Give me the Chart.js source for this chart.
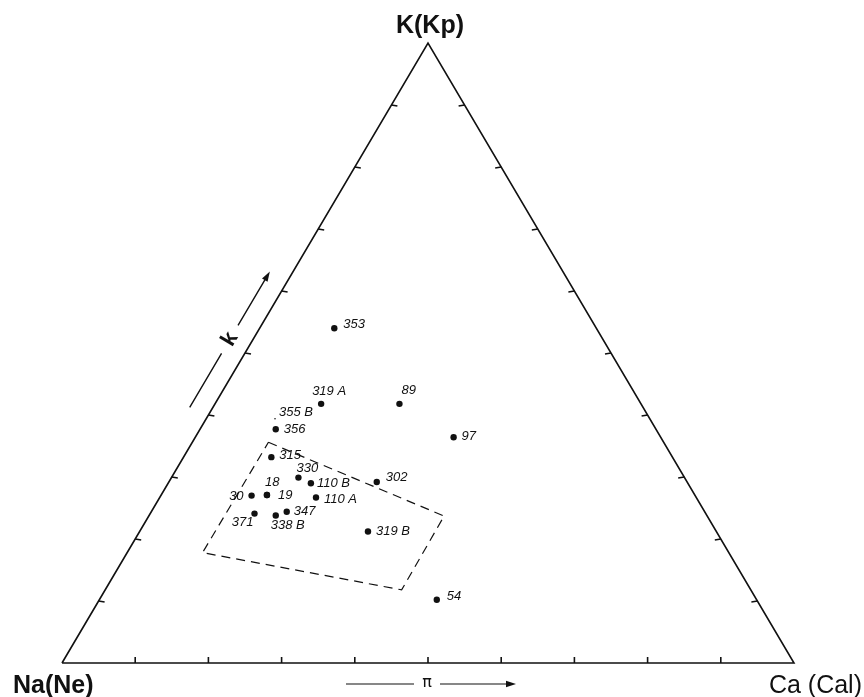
<!DOCTYPE html>
<html><head><meta charset="utf-8">
<script src="https://cdn.jsdelivr.net/npm/chart.js@4/dist/chart.umd.min.js"></script>
<style>html,body{margin:0;padding:0;background:#fff}#wrap{width:864px;height:697px;position:relative}</style>
</head><body><div id="wrap"><canvas id="c" width="864" height="697"></canvas></div>
<script>
// ---- data (ternary: K %, Ca %, Na = 100 - K - Ca) ----
const vertexLabels = ['Na(Ne)', 'K(Kp)', 'Ca (Cal)'];
const vertexK  = [0, 100, 0];
const vertexCa = [0, 0, 100];
const sampleLabels = ['353','319 A','89','355 B','356','97','315','330','110 B','302','18','30','19','110 A','347','371','338 B','319 B','54'];
const kValues  = [54.0, 41.8, 41.8, 39.4, 37.7, 36.4, 33.2, 29.9, 29.0, 29.2, 27.1, 27.0, 27.1, 26.7, 24.4, 24.1, 23.8, 21.2, 10.2];
const caValues = [10.2, 14.5, 25.2, 9.4, 10.35, 35.3, 12.0, 17.35, 19.5, 28.4, 14.45, 12.4, 14.45, 21.35, 18.5, 14.25, 17.3, 31.2, 46.1];
const fieldK  = [35.6, 23.7, 11.8, 17.8];
const fieldCa = [10.4, 40.35, 40.5, 10.3];
const tickValues = [10, 20, 30, 40, 50, 60, 70, 80, 90];
const sideAxisName = 'k';
const baseAxisName = 'π';

function toXY(k, ca) { return { x: ca + k / 2, y: k }; }

const triangle = [0, 1, 2, 0].map(i => toXY(vertexK[i], vertexCa[i]));
const field = [0, 1, 2, 3, 0].map(i => toXY(fieldK[i], fieldCa[i]));
const samples = sampleLabels.map((l, i) => toXY(kValues[i], caValues[i]));

// label placement relative to each dot (layout only)
const labelPlace = {
  '353': [9, -4, 'left'], '319 A': [-9, -12, 'left'], '89': [2, -13, 'left'],
  '355 B': [4, -6, 'left'], '356': [8, 0, 'left'], '97': [8, -1, 'left'],
  '315': [8, -2, 'left'], '330': [-2, -9, 'left'], '110 B': [6, 0, 'left'],
  '302': [9, -5, 'left'], '18': [-2, -13, 'left'], '30': [-8, 1, 'right'],
  '19': [11, 0, 'left'], '110 A': [8, 2, 'left'], '347': [7, 0, 'left'],
  '371': [-1, 9, 'right'], '338 B': [-5, 10, 'left'], '319 B': [8, 0, 'left'],
  '54': [10, -3, 'left']
};

function arrowHead(ctx, x, y, ux, uy, len, half) {
  ctx.beginPath();
  ctx.moveTo(x, y);
  ctx.lineTo(x - ux * len - uy * half, y - uy * len + ux * half);
  ctx.lineTo(x - ux * len + uy * half, y - uy * len - ux * half);
  ctx.closePath();
  ctx.fill();
}

const decor = {
  id: 'decor',
  afterDatasetsDraw(chart) {
    const ctx = chart.ctx;
    const xs = chart.scales.x, ys = chart.scales.y;
    const P = (k, ca) => { const p = toXY(k, ca); return [xs.getPixelForValue(p.x), ys.getPixelForValue(p.y)]; };
    ctx.save();
    ctx.strokeStyle = '#111'; ctx.fillStyle = '#111'; ctx.lineWidth = 1.6;
    // ticks
    const tl = 6;
    tickValues.forEach(t => {
      let [x, y] = P(0, t);            // bottom edge
      ctx.beginPath(); ctx.moveTo(x, y); ctx.lineTo(x, y - tl); ctx.stroke();
      [x, y] = P(t, 0);                // left edge (Na-K)
      ctx.beginPath(); ctx.moveTo(x, y); ctx.lineTo(x + tl, y + 1); ctx.stroke();
      [x, y] = P(t, 100 - t);          // right edge (K-Ca)
      ctx.beginPath(); ctx.moveTo(x, y); ctx.lineTo(x - tl, y + 1); ctx.stroke();
    });
    // k arrow parallel to left side
    const [ax, ay] = P(0, 0), [bx, by] = P(100, 0);
    const L = Math.hypot(bx - ax, by - ay), ux = (bx - ax) / L, uy = (by - ay) / L;
    const nx = uy, ny = -ux, off = 20;
    const at = f => [ax + ux * L * f + nx * off, ay + uy * L * f + ny * off];
    ctx.lineWidth = 1.4;
    let s = at(0.396), g1 = at(0.483), g2 = at(0.528), e = at(0.615);
    ctx.beginPath(); ctx.moveTo(s[0], s[1]); ctx.lineTo(g1[0], g1[1]);
    ctx.moveTo(g2[0], g2[1]); ctx.lineTo(e[0] - ux * 6, e[1] - uy * 6); ctx.stroke();
    arrowHead(ctx, e[0], e[1], ux, uy, 10, 3.2);
    const m = at(0.506);
    ctx.save(); ctx.translate(m[0], m[1]); ctx.rotate(Math.atan2(uy, ux));
    ctx.font = 'bold 22px "Liberation Sans"'; ctx.textAlign = 'center'; ctx.textBaseline = 'middle';
    ctx.fillText(sideAxisName, 0, 0); ctx.restore();
    // pi arrow under base
    const cx = xs.getPixelForValue(50), by0 = ys.getPixelForValue(0) + 21;
    ctx.lineWidth = 1.2;
    ctx.beginPath(); ctx.moveTo(cx - 82, by0); ctx.lineTo(cx - 14, by0);
    ctx.moveTo(cx + 12, by0); ctx.lineTo(cx + 80, by0); ctx.stroke();
    arrowHead(ctx, cx + 88, by0, 1, 0, 10, 3.2);
    ctx.font = '16px "DejaVu Sans"'; ctx.textAlign = 'center'; ctx.textBaseline = 'middle';
    ctx.fillText(baseAxisName, cx - 1, by0 - 1);
    // vertex labels
    ctx.textBaseline = 'alphabetic';
    const [tx, ty] = P(100, 0);
    ctx.font = 'bold 25px "Liberation Sans"'; ctx.textAlign = 'center';
    ctx.fillText(vertexLabels[1], tx + 2, ty - 10);
    const [lx, lyy] = P(0, 0);
    ctx.textAlign = 'left';
    ctx.fillText(vertexLabels[0], lx - 49, lyy + 30);
    const [rx, ryy] = P(0, 100);
    ctx.font = '25px "Liberation Sans"';
    ctx.textAlign = 'right';
    ctx.fillText(vertexLabels[2], rx + 68, ryy + 30);
    // sample labels
    ctx.font = 'italic 13px "Liberation Sans"'; ctx.textBaseline = 'middle';
    const meta = chart.getDatasetMeta(2);
    meta.data.forEach((pt, i) => {
      const lab = sampleLabels[i], pl = labelPlace[lab] || [8, 0, 'left'];
      ctx.textAlign = pl[2];
      ctx.fillText(lab, pt.x + pl[0], pt.y + pl[1]);
    });
    ctx.restore();
  }
};

new Chart(document.getElementById('c'), {
  type: 'scatter',
  data: {
    datasets: [
      { data: triangle, showLine: true, borderColor: '#111', borderWidth: 1.6, pointRadius: 0, fill: false, clip: false, tension: 0 },
      { data: field, showLine: true, borderColor: '#111', borderWidth: 1.2, borderDash: [9, 6], pointRadius: 0, fill: false, clip: false, tension: 0 },
      { data: samples, showLine: false, backgroundColor: '#111', borderColor: '#111', borderWidth: 0,
        pointRadius: ctx => sampleLabels[ctx.dataIndex] === '355 B' ? 0.8 : 3.2, clip: false }
    ]
  },
  options: {
    responsive: false, animation: false, events: [],
    layout: { padding: { left: 62, right: 70, top: 43, bottom: 34 } },
    scales: {
      x: { type: 'linear', min: 0, max: 100, display: false },
      y: { type: 'linear', min: 0, max: 100, display: false }
    },
    plugins: { legend: { display: false }, tooltip: { enabled: false }, title: { display: false } }
  },
  plugins: [decor]
});
</script></body></html>
